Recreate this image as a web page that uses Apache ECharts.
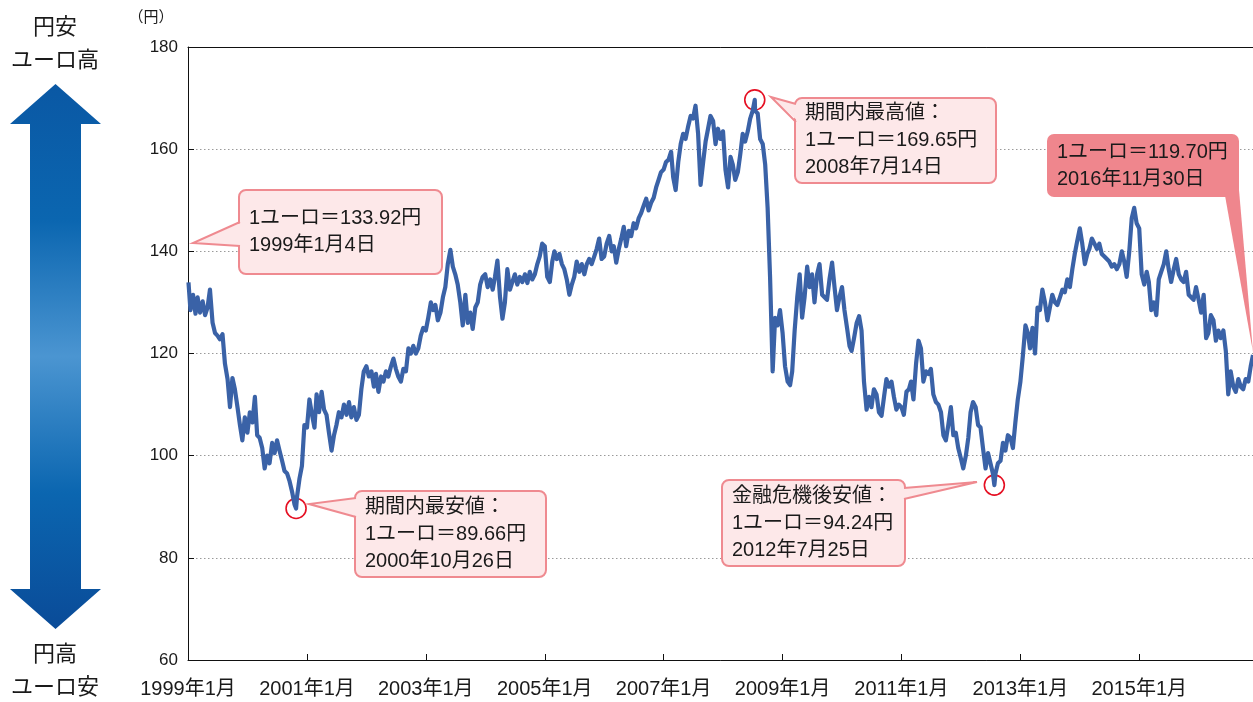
<!DOCTYPE html>
<html>
<head>
<meta charset="utf-8" />
<title>ユーロ円</title>
<script src="https://cdn.jsdelivr.net/npm/echarts@6/dist/echarts.min.js"></script>
<style>
  *{ padding:0; margin:0; }
  #main{ width:1253px; height:702px; background:#fff; }
</style>
</head>
<body>
<div id="main"></div>
<script type="text/javascript">
// 半月ごと(1日・16日)のユーロ円レート 読み取り値
var y1999 = [133.9,128.5,131.5,127.8,131.0,128.0,130.2,127.5,129.0,132.5,126.0,124.0,123.5,122.8,123.8,118.0,115.0,109.5,115.2,113.0,109.5,106.0,103.0,107.5];
var y2000 = [104.5,108.5,106.5,111.5,104.0,103.5,101.5,97.5,100.0,98.5,102.5,100.5,103.0,101.0,99.0,97.0,96.5,95.0,93.0,90.5,92.0,95.5,98.0,106.0];
var y2001 = [105.5,111.0,108.0,105.5,112.0,108.5,112.5,109.0,108.0,104.5,101.0,104.0,106.0,108.5,107.5,110.0,108.0,110.5,107.5,109.5,107.0,108.0,113.0,116.5];
var y2002 = [117.5,115.5,116.5,113.5,116.0,112.5,115.5,114.5,116.5,115.5,117.5,119.0,117.0,115.5,114.5,117.0,116.5,121.0,120.0,121.5,120.0,121.0,123.5,125.0];
var y2003 = [124.5,127.0,130.0,128.5,129.5,126.5,128.0,131.0,133.0,137.5,140.3,137.0,135.5,133.5,130.0,125.5,131.5,126.0,128.0,124.8,129.0,130.0,133.5,135.0];
var y2004 = [135.5,133.0,134.5,132.5,135.0,138.2,131.0,126.8,130.0,136.5,132.5,134.0,135.5,133.5,135.0,134.0,135.5,133.8,136.0,134.5,135.5,137.5,139.0,141.5];
var y2005 = [141.0,135.0,134.0,138.0,140.0,138.5,139.5,137.5,136.5,134.5,131.5,133.5,135.0,138.0,136.0,137.5,135.5,137.5,138.5,137.5,139.0,140.5,142.5,138.5];
var y2006 = [139.0,141.5,143.0,140.0,141.0,137.8,140.5,142.5,144.8,141.0,144.0,143.0,145.5,144.5,146.5,147.5,149.0,150.3,148.0,149.5,150.5,152.5,154.0,155.5];
var y2007 = [156.0,157.5,158.0,159.5,154.5,152.0,157.5,161.0,163.0,162.0,164.5,166.5,166.0,168.5,163.0,153.0,157.5,161.5,164.0,166.5,165.5,161.0,164.0,162.0];
var y2008 = [163.5,156.0,152.5,158.5,157.0,154.0,155.5,159.0,163.0,161.5,163.5,166.0,167.5,167.5,167.0,162.0,161.0,157.0,148.5,135.0,116.5,127.0,125.5,128.5];
var y2009 = [124.0,117.5,114.5,113.8,116.5,124.5,131.0,135.5,127.0,131.0,137.0,133.0,135.5,130.0,135.5,137.5,131.5,131.0,130.5,134.5,137.8,133.0,128.5,131.0];
var y2010 = [133.0,128.5,125.0,121.5,120.5,123.0,126.0,127.3,124.5,114.5,109.0,111.5,109.5,113.0,112.0,108.5,107.8,111.5,115.0,113.5,114.5,111.5,109.0,110.0];
var y2011 = [109.5,108.0,112.5,113.0,114.5,111.0,118.0,122.5,121.0,114.5,116.5,116.0,117.0,112.0,110.5,110.0,108.5,104.0,103.0,106.0,109.5,104.0,104.5,101.5];
var y2012 = [99.5,97.5,100.0,103.5,108.5,110.5,109.5,106.0,105.5,101.5,97.5,100.5,98.5,96.5,96.5,98.5,99.0,102.5,101.0,104.0,103.5,101.5,106.5,111.0];
var y2013 = [114.5,119.5,125.5,124.0,121.0,125.0,120.0,129.0,128.5,132.5,130.0,126.5,129.0,131.5,130.0,129.5,131.0,132.5,132.0,134.5,133.0,136.5,139.5,142.0];
var y2014 = [144.5,141.5,137.5,139.5,140.5,142.5,141.5,140.5,141.5,139.5,139.0,138.5,138.0,137.0,137.5,136.5,137.5,140.0,138.0,135.0,140.0,146.5,148.5,145.5];
var y2015 = [144.5,135.5,133.5,136.0,134.0,128.5,130.0,127.5,134.5,136.0,137.5,140.0,136.5,134.0,136.5,138.5,135.5,134.5,134.0,136.0,131.5,131.0,130.5,133.0];
var y2016 = [130.5,128.0,131.5,123.0,124.0,127.5,126.5,122.5,124.5,123.0,124.5,120.5,112.0,116.5,113.5,112.5,115.0,113.5,113.0,115.0,114.5,117.5];

// 注記する日付と値
var keyDates  = ['1999-01-04','2000-10-26','2008-07-14','2012-07-25','2016-11-30'];
var keyValues = [133.92, 89.66, 169.65, 94.24, 119.70];

// x軸の目盛(2年ごと)
var tickYears = [1999,2001,2003,2005,2007,2009,2011,2013,2015];
var yTicks = [60,80,100,120,140,160,180];

var years = {1999:y1999,2000:y2000,2001:y2001,2002:y2002,2003:y2003,2004:y2004,2005:y2005,2006:y2006,2007:y2007,2008:y2008,2009:y2009,2010:y2010,2011:y2011,2012:y2012,2013:y2013,2014:y2014,2015:y2015,2016:y2016};

function ts(str){ var p = str.split('-'); return +new Date(+p[0], +p[1] - 1, +p[2]); }

var points = [];
for (var y in years) {
    var arr = years[y];
    for (var i = 0; i < arr.length; i++) {
        if (y == 1999 && i == 0) continue; // 1/4 は keyDates から
        points.push([+new Date(+y, Math.floor(i / 2), i % 2 ? 16 : 1), arr[i]]);
    }
}
for (var k = 0; k < keyDates.length; k++) points.push([ts(keyDates[k]), keyValues[k]]);
points.sort(function(a, b){ return a[0] - b[0]; });

var FONT = "'Liberation Sans', 'Noto Sans CJK JP', sans-serif";
var tickTimes = tickYears.map(function(y){ return +new Date(y, 0, 1); });
var xMin = ts('1999-01-01'), xMax = ts(keyDates[keyDates.length - 1]);

var myChart = echarts.init(document.getElementById('main'));

// 吹き出し
function callout(x, y, w, h, text, tail, fill, stroke, inner) {
    var els = [];
    els.push({ type:'rect', shape:{x:x, y:y, width:w, height:h, r:7}, style:{fill:fill, stroke:stroke, lineWidth:2}, z:10 });
    els.push({ type:'polygon', shape:{points:inner}, style:{fill:fill}, z:11 });
    if (stroke) els.push({ type:'polyline', shape:{points:tail}, style:{stroke:stroke, lineWidth:2, fill:null}, z:11 });
    els.push({ type:'text', x:x + 10, y:y + h / 2, style:{text:text, fontSize:20, lineHeight:27, fill:'#1a1a1a', fontFamily:FONT, verticalAlign:'middle'}, z:12 });
    return els;
}

var pinkFill = '#fde8e9', pinkLine = '#ef8a90';
var graphics = [];
// 左の矢印
graphics.push({
    type:'polygon',
    shape:{points:[[55.5,84],[101,124],[81,124],[81,589],[101,589],[55.5,629],[10,589],[30,589],[30,124],[10,124]]},
    style:{fill:new echarts.graphic.LinearGradient(0,0,0,1,[
        {offset:0, color:'#0a58a4'},{offset:0.25, color:'#0b66b0'},
        {offset:0.5, color:'#4b95d1'},{offset:0.75, color:'#0b66b0'},{offset:1, color:'#0a4b98'}])}
});
graphics.push({ type:'text', x:55, y:28, style:{text:'円安', fontSize:22, fill:'#1a1a1a', fontFamily:FONT, align:'center', verticalAlign:'middle'} });
graphics.push({ type:'text', x:55, y:61, style:{text:'ユーロ高', fontSize:22, fill:'#1a1a1a', fontFamily:FONT, align:'center', verticalAlign:'middle'} });
graphics.push({ type:'text', x:55, y:655, style:{text:'円高', fontSize:22, fill:'#1a1a1a', fontFamily:FONT, align:'center', verticalAlign:'middle'} });
graphics.push({ type:'text', x:55, y:688, style:{text:'ユーロ安', fontSize:22, fill:'#1a1a1a', fontFamily:FONT, align:'center', verticalAlign:'middle'} });
graphics.push({ type:'text', x:151, y:18, style:{text:'（円）', fontSize:15, fill:'#1a1a1a', fontFamily:FONT, align:'center', verticalAlign:'middle'} });

graphics = graphics.concat(
    callout(239, 190, 203, 84, '1ユーロ＝133.92円\n1999年1月4日',
        [[240,222],[193,243],[240,246]], pinkFill, pinkLine, [[243,222],[193,243],[243,246]]),
    callout(355, 491, 191, 86, '期間内最安値：\n1ユーロ＝89.66円\n2000年10月26日',
        [[356,498],[309,504],[356,517]], pinkFill, pinkLine, [[359,498],[309,504],[359,517]]),
    callout(795, 98, 201, 85, '期間内最高値：\n1ユーロ＝169.65円\n2008年7月14日',
        [[796,104],[771,97],[796,122]], pinkFill, pinkLine, [[799,104],[771,97],[799,122]]),
    callout(722, 480, 183, 86, '金融危機後安値：\n1ユーロ＝94.24円\n2012年7月25日',
        [[904,488],[977,482],[904,499]], pinkFill, pinkLine, [[901,488],[977,482],[901,499]]),
    callout(1047, 134, 192, 63, '1ユーロ＝119.70円\n2016年11月30日',
        null, '#ef868d', null, [[1224,190],[1253,352],[1239,190]])
);

var option = {
    backgroundColor:'#fff',
    animation:false,
    grid:{ left:188, right:0, top:47, bottom:42 },
    xAxis:[{
        type:'value',
        min:xMin, max:xMax,
        axisLine:{ show:true, onZero:false, lineStyle:{ color:'#111', width:1 } },
        axisTick:{ show:true, inside:true, length:6, customValues:tickTimes, lineStyle:{ color:'#111' } },
        axisLabel:{
            customValues:tickTimes,
            fontSize:20, color:'#1a1a1a', fontFamily:FONT, margin:19,
            formatter:function(v){ return new Date(v).getFullYear() + '年1月'; }
        },
        splitLine:{ show:false }
    },{
        type:'value', position:'top',
        min:xMin, max:xMax,
        axisLine:{ show:true, onZero:false, lineStyle:{ color:'#111', width:1 } },
        axisTick:{ show:false }, axisLabel:{ show:false }, splitLine:{ show:false }
    }],
    yAxis:[{
        type:'value',
        min:yTicks[0], max:yTicks[yTicks.length - 1], interval:20,
        axisLine:{ show:true, lineStyle:{ color:'#111', width:1 } },
        axisTick:{ show:true, inside:true, length:6, lineStyle:{ color:'#111' } },
        axisLabel:{ fontSize:17, color:'#1a1a1a', fontFamily:FONT, margin:10 },
        splitLine:{ show:true, lineStyle:{ color:'#9a9a9a', type:[1.5,2.5], width:1 } }
    }],
    series:[{
        type:'line',
        data:points,
        showSymbol:false,
        symbol:'none',
        lineStyle:{ color:'#3a62a7', width:4.2, join:'round' },
        z:5,
        markPoint:{
            symbol:'circle', symbolSize:20, silent:true,
            itemStyle:{ color:'rgba(0,0,0,0)', borderColor:'#e50f22', borderWidth:1.6 },
            label:{ show:false },
            data:[
                { coord:[ts(keyDates[1]), keyValues[1]] },
                { coord:[ts(keyDates[2]), keyValues[2]] },
                { coord:[ts(keyDates[3]), keyValues[3]] }
            ]
        }
    }],
    graphic:graphics
};

myChart.setOption(option);
</script>
</body>
</html>
